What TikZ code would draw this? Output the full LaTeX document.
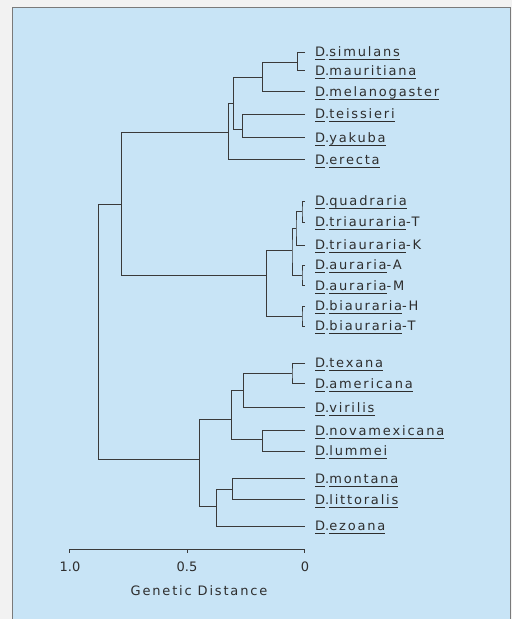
\documentclass[tikz,border=0pt]{standalone}
\usepackage{fontspec}
\setmainfont[LetterSpace=14]{DejaVu Sans}
\newfontfamily\numfont{DejaVu Sans}
\definecolor{bgblue}{HTML}{C8E4F6}
\definecolor{outside}{HTML}{F2F2F2}
\definecolor{inkc}{HTML}{2E2E2E}
\definecolor{linec}{HTML}{3A3A3A}
\definecolor{framec}{HTML}{7A7A7A}
\newcommand\ulx[1]{\setbox0=\hbox{#1}\rlap{\rule[-3pt]{\wd0}{0.5pt}}\box0}
\newcommand\spn[2][]{\ulx{D}.\ulx{#2}#1}
\begin{document}
\begin{tikzpicture}[x=1pt, y=-1pt,
  branch/.style={draw=linec, line width=0.7pt},
  leaf/.style={anchor=west, inner xsep=10pt, inner ysep=0pt, text height=9.4pt, text depth=0pt,
    text=inkc, font=\fontsize{13}{15}\selectfont},
  axlabel/.style={inner sep=0pt, text=inkc, font=\numfont\fontsize{13}{15}\selectfont},
  title/.style={inner sep=0pt, text=inkc, font=\fontsize{13}{15}\selectfont}]
\useasboundingbox (0,0) rectangle (512,619);
\fill[outside] (0,0) rectangle (512,619);
\fill[bgblue] (12,7) rectangle (510.5,630);
\draw[framec, line width=0.8pt] (12,630) -- (12,7) -- (510.5,7) -- (510.5,630);

% ---- leaves ----
\node[leaf] (sim)  at (305,52)    {\spn{simulans}};
\node[leaf] (mau)  at (305,70.7)  {\spn{mauritiana}};
\node[leaf] (mel)  at (305,91.7)  {\spn{melanogaster}};
\node[leaf] (tei)  at (305,114)   {\spn{teissieri}};
\node[leaf] (yak)  at (305,137.7) {\spn{yakuba}};
\node[leaf] (ere)  at (305,159.5) {\spn{erecta}};

\node[leaf] (qua)  at (305,201)   {\spn{quadraria}};
\node[leaf] (trT)  at (305,222)   {\spn[-T]{triauraria}};
\node[leaf] (trK)  at (305,245)   {\spn[-K]{triauraria}};
\node[leaf] (auA)  at (305,265)   {\spn[-A]{auraria}};
\node[leaf] (auM)  at (305,285.5) {\spn[-M]{auraria}};
\node[leaf] (biH)  at (305,306)   {\spn[-H]{biauraria}};
\node[leaf] (biT)  at (305,326)   {\spn[-T]{biauraria}};

\node[leaf] (tex)  at (305,363)   {\spn{texana}};
\node[leaf] (ame)  at (305,383.5) {\spn{americana}};
\node[leaf] (vir)  at (305,407.3) {\spn{virilis}};
\node[leaf] (nov)  at (305,430.7) {\spn{novamexicana}};
\node[leaf] (lum)  at (305,451)   {\spn{lummei}};
\node[leaf] (mon)  at (305,478.3) {\spn{montana}};
\node[leaf] (lit)  at (305,499.3) {\spn{littoralis}};
\node[leaf] (ezo)  at (305,526)   {\spn{ezoana}};

% ---- internal nodes ----
\coordinate (sm)   at (297.3,62.7);
\coordinate (smm)  at (262.7,77.3);
\coordinate (ty)   at (242.7,129.3);
\coordinate (mty)  at (233.3,103.3);
\coordinate (melg) at (228.3,132.7);

\coordinate (qt)   at (302,211);
\coordinate (qtk)  at (296,228);
\coordinate (aAM)  at (302,275);
\coordinate (dd)   at (292,250.7);
\coordinate (bHT)  at (302,316);
\coordinate (aur)  at (266.7,275.7);

\coordinate (A)    at (121.7,204);

\coordinate (ta)   at (292,373.3);
\coordinate (tav)  at (243.3,390);
\coordinate (nl)   at (262.3,439.3);
\coordinate (vg)   at (231.7,419);
\coordinate (ml)   at (232.3,489.3);
\coordinate (mle)  at (216.7,506.7);
\coordinate (B)    at (199.3,459.3);

\coordinate (R)    at (98.7,330);

% ---- branches ----
\draw[branch] (sim.west) -| (sm) |- (mau.west);
\draw[branch] (sm) -| (smm) |- (mel.west);
\draw[branch] (tei.west) -| (ty) |- (yak.west);
\draw[branch] (smm) -| (mty) |- (ty);
\draw[branch] (mty) -| (melg) |- (ere.west);

\draw[branch] (qua.west) -| (qt) |- (trT.west);
\draw[branch] (qt) -| (qtk) |- (trK.west);
\draw[branch] (auA.west) -| (aAM) |- (auM.west);
\draw[branch] (qtk) -| (dd) |- (aAM);
\draw[branch] (biH.west) -| (bHT) |- (biT.west);
\draw[branch] (dd) -| (aur) |- (bHT);

\draw[branch] (melg) -| (A) |- (aur);

\draw[branch] (tex.west) -| (ta) |- (ame.west);
\draw[branch] (ta) -| (tav) |- (vir.west);
\draw[branch] (nov.west) -| (nl) |- (lum.west);
\draw[branch] (tav) -| (vg) |- (nl);
\draw[branch] (mon.west) -| (ml) |- (lit.west);
\draw[branch] (ml) -| (mle) |- (ezo.west);
\draw[branch] (vg) -| (B) |- (mle);

\draw[branch] (A) -| (R) |- (B);

% ---- axis ----
\coordinate (ax1) at (69,549);
\coordinate (ax5) at (187.5,549);
\coordinate (ax0) at (304,549);
\draw[branch] (ax1) -- (ax0);
\draw[branch] (ax1) -- ++(0,4);
\draw[branch] (ax5) -- ++(0,4);
\draw[branch] (ax0) -- ++(0,4);
\node[axlabel] (l1) at (70,567) {1.0};
\node[axlabel] (l5) at (187,567) {0.5};
\node[axlabel] (l0) at (305,567) {0};
\node[title] (gd) at (199,591) {Genetic Distance};
\end{tikzpicture}
\end{document}
